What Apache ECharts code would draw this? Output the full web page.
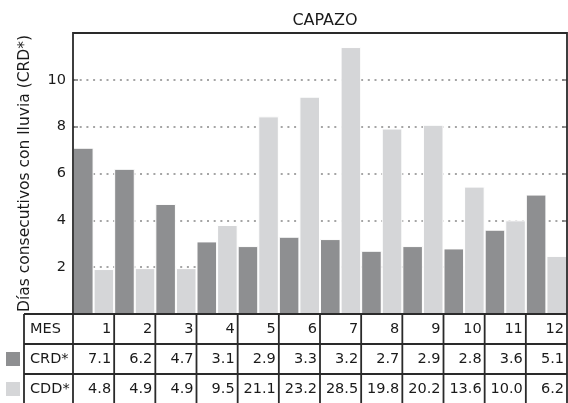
<!DOCTYPE html>
<html><head><meta charset="utf-8">
<script src="https://cdn.jsdelivr.net/npm/echarts@6/dist/echarts.min.js"></script>
<style>html,body{margin:0;padding:0;background:#fff}#c{width:568px;height:403px}</style>
</head><body><div id="c"></div>
<script>
const title = 'CAPAZO';
const yName = 'Días consecutivos con lluvia (CRD*)';
const months = ['1','2','3','4','5','6','7','8','9','10','11','12'];
const crd = [7.1,6.2,4.7,3.1,2.9,3.3,3.2,2.7,2.9,2.8,3.6,5.1];
const cdd = [4.8,4.9,4.9,9.5,21.1,23.2,28.5,19.8,20.2,13.6,10.0,6.2];
const crdLabels = ['7.1','6.2','4.7','3.1','2.9','3.3','3.2','2.7','2.9','2.8','3.6','5.1'];
const cddLabels = ['4.8','4.9','4.9','9.5','21.1','23.2','28.5','19.8','20.2','13.6','10.0','6.2'];
const rowLabels = ['MES','CRD*','CDD*'];
const yMax = 12, yInterval = 2;
const cddScaleMax = 30;

const FONT = 'DejaVu Sans';
const DARK = '#8e8f91', LIGHT = '#d5d6d8', INK = '#1a1a1a';
const chart = echarts.init(document.getElementById('c'), null, {renderer:'canvas'});
const G = {left:73, right:1, top:33, bottom:89};
const tickStyle = {show:true, inside:true, length:5, lineStyle:{color:'#777', width:1.5}};

chart.setOption({
  animation:false,
  textStyle:{fontFamily:FONT},
  title:{text:title, left:G.left + (568-G.left-G.right)/2, textAlign:'center', top:8,
    textStyle:{fontFamily:FONT, fontSize:16, fontWeight:'normal', color:INK}},
  grid:{left:G.left, right:G.right, top:G.top, bottom:G.bottom, containLabel:false, outerBoundsMode:'none'},
  xAxis:{type:'category', data:months, axisLine:{show:false}, axisTick:{show:false}, axisLabel:{show:false}},
  yAxis:[{type:'value', min:0, max:yMax, interval:yInterval,
      name:yName, nameLocation:'middle', nameGap:40, nameRotate:90,
      nameTextStyle:{fontFamily:FONT, fontSize:15.5, color:INK},
      axisLine:{show:false},
      axisTick:tickStyle,
      axisLabel:{fontFamily:FONT, fontSize:14.5, color:INK, margin:7,
        formatter:v => (v===0||v===yMax)?'':String(v)},
      splitLine:{show:true, lineStyle:{type:[2,4.7], color:'#888', width:1.5}}},
    {type:'value', min:0, max:cddScaleMax, show:false, splitLine:{show:false}},
    {type:'value', position:'right', min:0, max:yMax, interval:yInterval,
      axisLine:{show:false}, axisLabel:{show:false}, axisTick:tickStyle, splitLine:{show:false}}],
  series:[
    {type:'bar', name:'CRD*', data:crd, yAxisIndex:0, barGap:'0%', barCategoryGap:'0%',
      itemStyle:{color:DARK, borderColor:'#fff', borderWidth:1}},
    {type:'bar', name:'CDD*', data:cdd, yAxisIndex:1, barGap:'0%', barCategoryGap:'0%',
      itemStyle:{color:LIGHT, borderColor:'#fff', borderWidth:1}}
  ]
});

// Build frame and data table from the axes
const x0 = chart.convertToPixel({xAxisIndex:0}, 0);
const x1 = chart.convertToPixel({xAxisIndex:0}, 1);
const band = x1 - x0;
const plotLeft = x0 - band/2;
const plotRight = plotLeft + band*months.length;
const yTop = chart.convertToPixel({yAxisIndex:0}, yMax);
const yBot = chart.convertToPixel({yAxisIndex:0}, 0);
const rowH = 30;
const tableLeft = 24;
const els = [];
const LW = 1.8;
const LINE = '#2a2a2a';
// frame
els.push({type:'polyline', z:100, shape:{points:[[plotLeft,yBot],[plotLeft,yTop],[plotRight,yTop],[plotRight,yBot]]},
  style:{stroke:LINE, lineWidth:LW, fill:null}});
// table horizontal lines
for (let r=0;r<=3;r++){
  const y = yBot + r*rowH;
  els.push({type:'line', z:100, shape:{x1:tableLeft,y1:y,x2:plotRight,y2:y}, style:{stroke:LINE, lineWidth:LW}});
}
// vertical lines
const vx = [tableLeft, plotLeft];
for (let i=0;i<months.length;i++) vx.push(plotLeft + band*(i+1));
vx.forEach(x => els.push({type:'line', z:100, shape:{x1:x,y1:yBot,x2:x,y2:yBot+3*rowH+2}, style:{stroke:LINE, lineWidth:LW}}));
// row labels
const rows = [months, crdLabels, cddLabels];
rowLabels.forEach((lab, r) => {
  const cy = yBot + r*rowH + rowH/2;
  els.push({type:'text', z:101, style:{text:lab, x:tableLeft+6, y:cy, textVerticalAlign:'middle', textAlign:'left',
    fontFamily:FONT, fontSize:14.5, fill:INK}});
  rows[r].forEach((v,i) => {
    const cx = chart.convertToPixel({xAxisIndex:0}, i) + band/2 - 3;
    els.push({type:'text', z:101, style:{text:v, x:cx, y:cy, textVerticalAlign:'middle', textAlign:'right',
      fontFamily:FONT, fontSize:14.5, fill:INK}});
  });
});
// legend swatches
[[DARK,1],[LIGHT,2]].forEach(([c,r]) => {
  const cy = yBot + r*rowH + rowH/2;
  els.push({type:'rect', z:101, shape:{x:6, y:cy-7, width:14, height:14}, style:{fill:c}});
});
chart.setOption({graphic:els});
</script></body></html>
